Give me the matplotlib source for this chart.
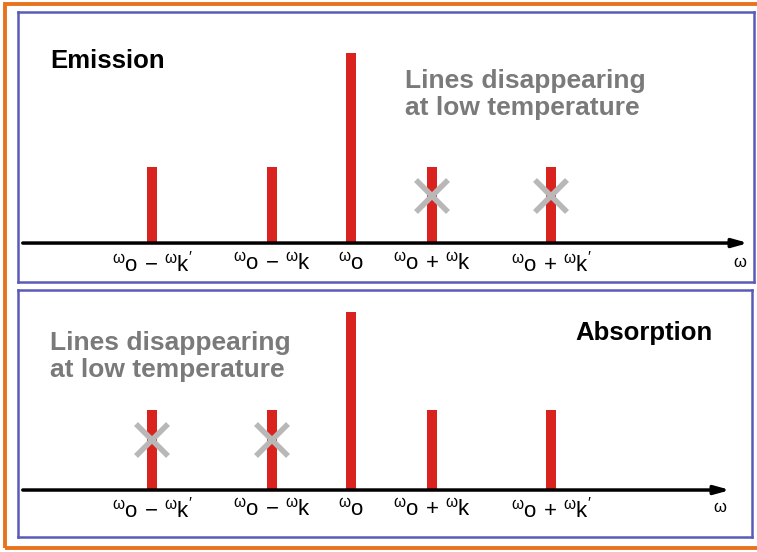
import matplotlib
matplotlib.use("Agg")
import matplotlib.pyplot as plt
import matplotlib.patches as mp

plt.rcParams['font.family'] = ['Liberation Sans', 'DejaVu Sans']
plt.rcParams['mathtext.fontset'] = 'custom'
plt.rcParams['mathtext.rm'] = 'Liberation Sans'
plt.rcParams['mathtext.it'] = 'Liberation Sans'

# positions of the lines (omega_o at 0, omega_k ~ 0.8, omega_k' ~ 2.0)
positions = [-1.99, -0.79, 0.0, 0.81, 2.0]
labels = [r"${}^{\mathrm{ω}}\mathrm{o}\,-\,{}^{\mathrm{ω}}\mathrm{k}^{\mathrm{\prime}}$",
          r"${}^{\mathrm{ω}}\mathrm{o}\,-\,{}^{\mathrm{ω}}\mathrm{k}$",
          r"${}^{\mathrm{ω}}\mathrm{o}$",
          r"${}^{\mathrm{ω}}\mathrm{o}\,+\,{}^{\mathrm{ω}}\mathrm{k}$",
          r"${}^{\mathrm{ω}}\mathrm{o}\,+\,{}^{\mathrm{ω}}\mathrm{k}^{\mathrm{\prime}}$"]
emission = [0.4, 0.4, 1.0, 0.4, 0.4]
absorption = [0.45, 0.45, 1.0, 0.45, 0.45]
emission_gone = [False, False, False, True, True]
absorption_gone = [True, True, False, False, False]

RED = "#d8231f"
BLUE = "#5a5ab8"
GRAY = "#7a7a7a"
XGRAY = "#b8b8b8"

W, H = 757, 552
fig = plt.figure(figsize=(W / 100, H / 100), dpi=100)

# orange outer frame (cut off at the right edge)
fig.add_artist(mp.Rectangle((5 / W, 4 / H), 800 / W, 544 / H,
                            transform=fig.transFigure, fill=False,
                            edgecolor="#e8731e", linewidth=2.8))


def panel(rect, heights, gone, ylim, arrow_end, omega_x, cross_y):
    ax = fig.add_axes(rect)
    ax.set_xlim(-3.33, -3.33 + rect[2] * W / 100)
    ax.set_ylim(*ylim)
    for s in ax.spines.values():
        s.set_color(BLUE)
        s.set_linewidth(1.8)
    ax.set_xticks([])
    ax.set_yticks([])
    ax.bar(positions, heights, width=0.1, color=RED, zorder=2)
    xs = [p for p, g in zip(positions, gone) if g]
    ax.plot(xs, [cross_y] * len(xs), ls="none", marker="x", ms=23,
            mew=4, color=XGRAY, zorder=3)
    ax.annotate("", xy=(arrow_end, 0), xytext=(-3.31, 0),
                arrowprops=dict(arrowstyle="-|>,head_length=0.9,head_width=0.25",
                                color="black", lw=2.5), zorder=4)
    for p, lab in zip(positions, labels):
        ax.text(p, -0.11, lab, ha="center", va="center", fontsize=16)
    ax.text(omega_x, -0.1, "ω", ha="center", va="center", fontsize=12)
    return ax


top = panel([18 / W, 1 - 282 / H, 736 / W, 270 / H], emission, emission_gone,
            (-0.205, 1.216), 4.0, 3.89, 0.25)
top.text(-3.01, 0.96, "Emission", fontsize=18.5, fontweight="bold",
         va="center", ha="left")
top.text(0.54, 0.78, "Lines disappearing\nat low temperature", fontsize=19,
         fontweight="bold", color=GRAY, va="center", ha="left", linespacing=1.15)

bot = panel([18 / W, 1 - 537 / H, 734 / W, 247 / H], absorption, absorption_gone,
            (-0.264, 1.124), 3.82, 3.69, 0.28)
bot.text(-3.01, 0.75, "Lines disappearing\nat low temperature", fontsize=19,
         fontweight="bold", color=GRAY, va="center", ha="left", linespacing=1.15)
bot.text(2.24, 0.88, "Absorption", fontsize=18.5, fontweight="bold",
         va="center", ha="left")

fig.savefig("out.png", dpi=100)
